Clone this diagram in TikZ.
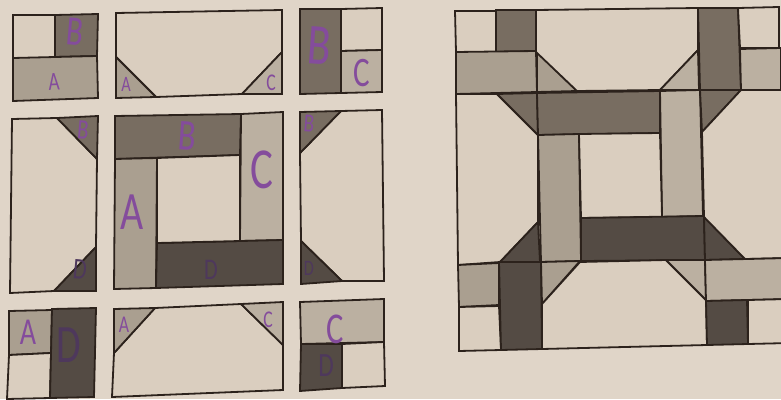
\documentclass[tikz,border=0pt]{standalone}
\usepackage{fontspec}
\newfontfamily\handfont[FakeStretch=0.74]{Carlito}
\definecolor{paper}{RGB}{224,213,200}
\definecolor{blank}{RGB}{218,206,191}
\definecolor{toneA}{RGB}{170,159,144}
\definecolor{toneC}{RGB}{187,176,161}
\definecolor{toneB}{RGB}{120,109,97}
\definecolor{toneD}{RGB}{84,75,68}
\definecolor{inkline}{RGB}{44,34,28}
\definecolor{ink}{RGB}{132,76,156}
\definecolor{inkdark}{RGB}{78,56,92}
\tikzset{
  pc/.style={draw=inkline,line width=1.8pt,line join=miter,fill=#1},
  lab/.style={font=\handfont\fontsize{#1}{#1}\selectfont,text=ink,inner sep=0pt},
  labd/.style={lab=#1,text=inkdark}
}
\begin{document}
\begin{tikzpicture}[x=1pt,y=-1pt]
\useasboundingbox (0,0) rectangle (781,399);
\fill[paper] (0,0) rectangle (781,399);
\begin{scope}
\clip (0,0) rectangle (781,399);
% top-left block
\draw[pc=blank] (13,15)--(55,15)--(55,58)--(13,58)--cycle;
\draw[pc=toneB] (55,15)--(98,14)--(97,56)--(55,57)--cycle;
\draw[pc=toneA] (13,58)--(97,56)--(98,98)--(13,101)--cycle;
% top-middle block
\draw[pc=blank] (116,13)--(282,10)--(282,52)--(242,94)--(156,97)--(116,57)--cycle;
\draw[pc=toneA] (116,57)--(156,97)--(116,98)--cycle;
\draw[pc=toneC] (282,52)--(282,94)--(242,94)--cycle;
% top-right block
\draw[pc=toneB] (300,9)--(341,9)--(341,93)--(300,94)--cycle;
\draw[pc=blank] (341,9)--(382,8)--(382,50)--(341,51)--cycle;
\draw[pc=toneC] (341,51)--(382,50)--(382,92)--(341,93)--cycle;
% middle-left block
\draw[pc=blank] (12,119)--(57,118)--(97,159)--(96,247)--(54,291)--(10,293)--cycle;
\draw[pc=toneB] (57,118)--(98,116)--(97,159)--cycle;
\draw[pc=toneD] (96,247)--(96,291)--(54,291)--cycle;
% centre block
\draw[pc=toneB] (115,116)--(241,114)--(240,155)--(115,159)--cycle;
\draw[pc=toneC] (241,114)--(283,112)--(283,240)--(240,241)--cycle;
\draw[pc=toneA] (115,159)--(157,158)--(156,288)--(114,289)--cycle;
\draw[pc=toneD] (157,243)--(283,240)--(283,284)--(156,288)--cycle;
\draw[pc=blank] (157,158)--(240,155)--(240,241)--(157,243)--cycle;
% middle-right block
\draw[pc=blank] (341,111)--(382,110)--(384,281)--(342,281)--(301,241)--(300,153)--cycle;
\draw[pc=toneB] (300,112)--(341,111)--(300,153)--cycle;
\draw[pc=toneD] (301,241)--(342,281)--(301,284)--cycle;
% bottom-left block
\draw[pc=toneA] (9,311)--(52,310)--(51,353)--(9,355)--cycle;
\draw[pc=blank] (9,355)--(51,353)--(50,398)--(7,399)--cycle;
\draw[pc=toneD] (52,309)--(96,308)--(94,397)--(50,398)--cycle;
% bottom-middle block
\draw[pc=blank] (155,308)--(241,304)--(283,345)--(283,390)--(112,397)--(114,353)--cycle;
\draw[pc=toneA] (114,309)--(155,308)--(114,353)--cycle;
\draw[pc=toneC] (241,304)--(283,302)--(283,345)--cycle;
% bottom-right block
\draw[pc=toneC] (300,302)--(384,299)--(384,342)--(301,344)--cycle;
\draw[pc=toneD] (301,344)--(342,344)--(342,388)--(300,391)--cycle;
\draw[pc=blank] (342,344)--(384,342)--(385,386)--(342,388)--cycle;
% assembled block, top row
\draw[pc=blank] (455,11)--(496,11)--(496,52)--(456,52)--cycle;
\draw[pc=toneB] (496,10)--(536,10)--(536,51)--(496,52)--cycle;
\draw[pc=toneA] (456,52)--(536,51)--(537,92)--(456,94)--cycle;
\draw[pc=toneA] (537,52)--(577,91)--(537,92)--cycle;
\draw[pc=blank] (536,10)--(698,8)--(698,50)--(660,90)--(577,91)--(536,52)--cycle;
\draw[pc=toneC] (698,50)--(699,90)--(660,90)--cycle;
\draw[pc=toneB] (698,8)--(738,8)--(741,90)--(700,90)--cycle;
\draw[pc=blank] (738,8)--(779,7)--(779,48)--(740,48)--cycle;
\draw[pc=toneC] (740,49)--(781,48)--(781,90)--(741,90)--cycle;
% assembled block, middle row
\draw[pc=blank] (456,94)--(497,94)--(538,135)--(538,222)--(500,262)--(458,265)--cycle;
\draw[pc=toneB] (497,94)--(537,93)--(538,135)--cycle;
\draw[pc=toneB] (537,93)--(660,91)--(660,133)--(538,135)--cycle;
\draw[pc=toneC] (660,91)--(700,90)--(703,216)--(662,217)--cycle;
\draw[pc=toneB] (700,90)--(741,90)--(702,132)--cycle;
\draw[pc=toneA] (538,135)--(579,134)--(581,261)--(541,262)--cycle;
\draw[pc=blank] (579,134)--(660,133)--(662,217)--(581,218)--cycle;
\draw[pc=toneD] (581,218)--(704,216)--(705,260)--(581,261)--cycle;
\draw[pc=toneD] (538,222)--(540,262)--(500,262)--cycle;
\draw[pc=toneD] (704,217)--(745,259)--(705,260)--cycle;
\draw[pc=blank] (702,132)--(741,90)--(790,90)--(790,258)--(745,259)--(704,217)--cycle;
% assembled block, bottom row
\draw[pc=toneA] (458,265)--(499,263)--(499,305)--(459,307)--cycle;
\draw[pc=blank] (459,307)--(499,306)--(501,350)--(459,351)--cycle;
\draw[pc=toneD] (499,262)--(541,262)--(542,349)--(501,350)--cycle;
\draw[pc=toneA] (541,262)--(580,261)--(542,304)--cycle;
\draw[pc=blank] (542,304)--(580,262)--(666,260)--(706,300)--(707,345)--(542,349)--cycle;
\draw[pc=toneC] (666,260)--(705,260)--(706,300)--cycle;
\draw[pc=toneC] (705,260)--(790,258)--(790,299)--(706,301)--cycle;
\draw[pc=toneD] (706,301)--(747,300)--(748,344)--(707,345)--cycle;
\draw[pc=blank] (748,300)--(790,299)--(790,343)--(748,344)--cycle;
\end{scope}
% handwritten letters
\node[lab=42,rotate=-5] (l1) at (75,32) {B};
\node[lab=26,rotate=3] (l2) at (54,82) {A};
\node[lab=22] (l3) at (126,84) {A};
\node[lab=24] (l4) at (271,83) {C};
\node[lab=58,rotate=-4] (l5) at (319,46) {B};
\node[lab=42] (l6) at (362,73) {C};
\node[lab=28,rotate=-5] (l7) at (83,130) {B};
\node[labd=30,rotate=-5] (l8) at (80,270) {D};
\node[lab=44,rotate=-4] (l9) at (187,136) {B};
\node[lab=58] (l10) at (262,170) {C};
\node[lab=54] (l11) at (132,212) {A};
\node[labd=30] (l12) at (211,270) {D};
\node[lab=26,rotate=-5] (l13) at (309,124) {B};
\node[labd=22] (l14) at (309,268) {D};
\node[lab=38] (l15) at (28,332) {A};
\node[labd=54] (l16) at (69,345) {D};
\node[lab=24] (l17) at (124,325) {A};
\node[lab=24] (l18) at (268,320) {C};
\node[lab=44] (l19) at (335,329) {C};
\node[labd=34] (l20) at (326,366) {D};
\end{tikzpicture}
\end{document}
